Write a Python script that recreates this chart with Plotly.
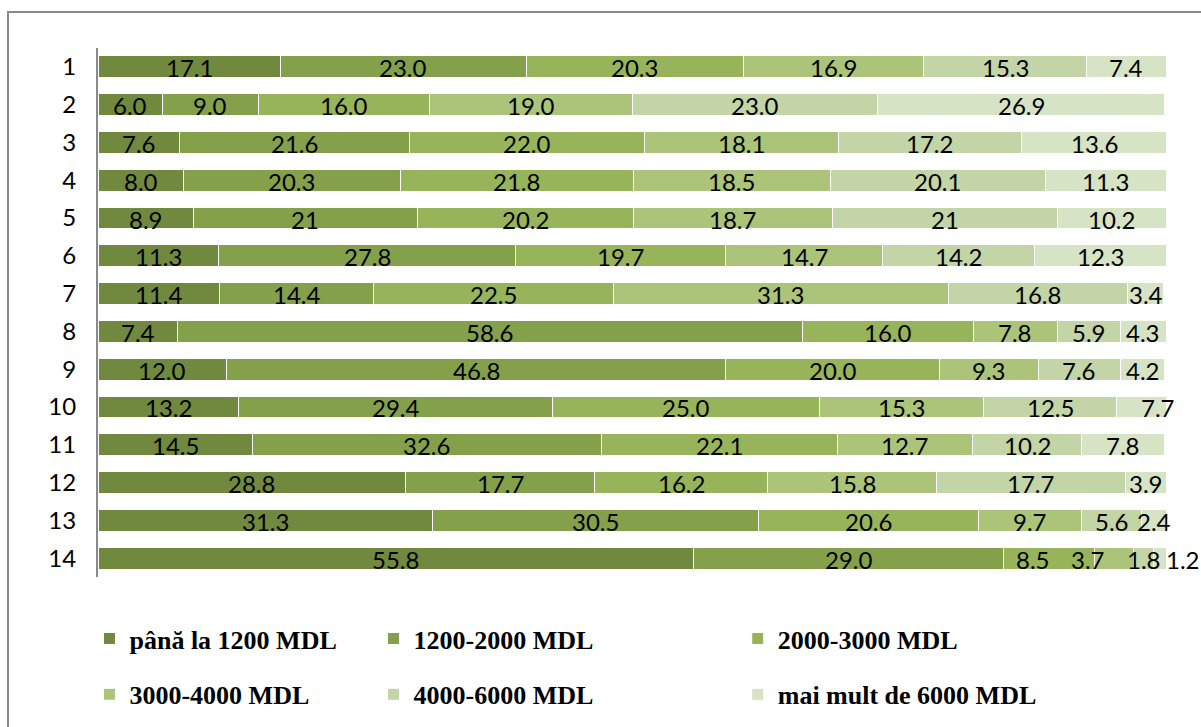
import plotly.graph_objects as go

# Row labels (top to bottom)
rows = [str(i) for i in range(1, 15)]

# Income bands
bands = [
    "până la 1200 MDL",
    "1200-2000 MDL",
    "2000-3000 MDL",
    "3000-4000 MDL",
    "4000-6000 MDL",
    "mai mult de 6000 MDL",
]

# Shares per band (%), one list per band, ordered by row 1..14
band_1 = ["17.1", "6.0", "7.6", "8.0", "8.9", "11.3", "11.4", "7.4", "12.0", "13.2", "14.5", "28.8", "31.3", "55.8"]
band_2 = ["23.0", "9.0", "21.6", "20.3", "21", "27.8", "14.4", "58.6", "46.8", "29.4", "32.6", "17.7", "30.5", "29.0"]
band_3 = ["20.3", "16.0", "22.0", "21.8", "20.2", "19.7", "22.5", "16.0", "20.0", "25.0", "22.1", "16.2", "20.6", "8.5"]
band_4 = ["16.9", "19.0", "18.1", "18.5", "18.7", "14.7", "31.3", "7.8", "9.3", "15.3", "12.7", "15.8", "9.7", "3.7"]
band_5 = ["15.3", "23.0", "17.2", "20.1", "21", "14.2", "16.8", "5.9", "7.6", "12.5", "10.2", "17.7", "5.6", "1.8"]
band_6 = ["7.4", "26.9", "13.6", "11.3", "10.2", "12.3", "3.4", "4.3", "4.2", "7.7", "7.8", "3.9", "2.4", "1.2"]

series = [band_1, band_2, band_3, band_4, band_5, band_6]

colors = ["#71893F", "#84A04B", "#98B45A", "#ABC47A", "#C3D4A6", "#D7E3C5"]

# Horizontal nudges (px) for crowded labels in the last row
label_shift = {(2, 13): -16, (3, 13): -26, (5, 13): 23}

# Legend column for each band (three columns, two rows)
legend_of = ["legend", "legend2", "legend3", "legend", "legend2", "legend3"]

fig = go.Figure()
cum = [0.0] * len(rows)
annotations = []
for k, (name, vals, col) in enumerate(zip(bands, series, colors)):
    xs = [float(v) for v in vals]
    fig.add_trace(go.Bar(
        y=rows, x=xs, name=name, orientation="h",
        marker=dict(color=col, line=dict(color="white", width=1)),
        legend=legend_of[k], legendgroup=name,
        hoverinfo="x+name",
    ))
    for i, (v, s) in enumerate(zip(xs, vals)):
        # category axis: position the label by row index
        annotations.append(dict(
            x=cum[i] + v / 2, y=i, xref="x", yref="y",
            text=s, showarrow=False,
            xshift=label_shift.get((k, i), 0), yshift=-1,
            font=dict(family="Lato, Calibri, sans-serif", size=24, color="black"),
        ))
        cum[i] += v

legend_font = dict(family="Liberation Serif, Times New Roman, serif", size=26,
                   color="black", weight="bold")
legend_common = dict(orientation="v", yanchor="top", xanchor="left",
                     font=legend_font, tracegroupgap=19,
                     bgcolor="rgba(0,0,0,0)", borderwidth=0)

fig.update_layout(
    width=1201, height=727,
    margin=dict(l=98, r=35, t=48, b=150, autoexpand=False),
    paper_bgcolor="white", plot_bgcolor="white",
    barmode="stack", bargap=0.42,
    showlegend=True,
    legend=dict(x=-0.008, y=-0.072, **legend_common),
    legend2=dict(x=0.258, y=-0.072, **legend_common),
    legend3=dict(x=0.599, y=-0.072, **legend_common),
    xaxis=dict(range=[0, 100], visible=False, fixedrange=True),
    yaxis=dict(
        type="category", autorange="reversed",
        showline=True, linecolor="#8A8A8A", linewidth=2,
        showgrid=False, ticks="", ticklabelstandoff=15,
        tickfont=dict(family="Lato, Calibri, sans-serif", size=24, color="black"),
    ),
    annotations=annotations,
    shapes=[dict(
        type="rect", xref="paper", yref="paper",
        x0=(8 - 98) / 1068, x1=1.2, y0=-0.6, y1=(577 - 12) / 529,
        line=dict(color="#8A8A8A", width=2), fillcolor="rgba(0,0,0,0)",
        layer="below",
    )],
)

fig.write_html("out.html")
